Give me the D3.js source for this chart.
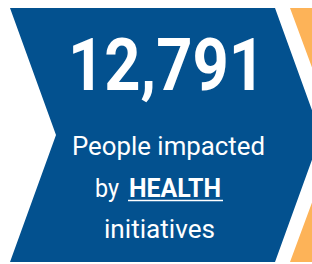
<!DOCTYPE html>
<html lang="en">
<head>
<meta charset="utf-8">
<title>Health impact</title>
<script src="https://d3js.org/d3.v7.min.js"></script>
<style>
  body { margin: 0; background: #fff; }
  svg { display: block; }
</style>
</head>
<body>
<script>
// values
const statValue = ["12,791"];
const lineOne = ["People impacted"];
const lineTwo = ["by", "HEALTH"];
const lineThree = ["initiatives"];

const w = 312, h = 264;
const blue = "#03518f", orange = "#fdb358";

const svg = d3.select("body").append("svg")
  .attr("width", w).attr("height", h);

// chevron shape: notch on the left, point on the right
const chevron = (x0, y0, y1, depth, width) => {
  const mid = (y0 + y1) / 2;
  return d3.line()([
    [x0, y0], [x0 + width, y0], [x0 + width + depth, mid],
    [x0 + width, y1], [x0, y1], [x0 + depth, mid]
  ]) + "Z";
};

// next chevron peeking in from the right
svg.append("path")
  .attr("d", chevron(290, 8, 262, 47, 265))
  .attr("fill", orange);

svg.append("path")
  .attr("d", chevron(10, 8, 262, 46, 265))
  .attr("fill", blue);

svg.append("text")
  .attr("x", 68).attr("y", 90)
  .attr("font-family", "Roboto, sans-serif")
  .attr("font-weight", 700)
  .attr("font-size", 73)
  .attr("fill", "#fff")
  .attr("textLength", 197)
  .attr("lengthAdjust", "spacingAndGlyphs")
  .text(statValue[0]);

svg.append("text")
  .attr("x", 72).attr("y", 155)
  .attr("font-family", "Roboto, sans-serif")
  .attr("font-size", 26)
  .attr("fill", "#fff")
  .attr("textLength", 193)
  .attr("lengthAdjust", "spacingAndGlyphs")
  .text(lineOne[0]);

svg.append("text")
  .attr("x", 95).attr("y", 197)
  .attr("font-family", "Roboto, sans-serif")
  .attr("font-size", 26)
  .attr("fill", "#fff")
  .attr("textLength", 24)
  .attr("lengthAdjust", "spacingAndGlyphs")
  .text(lineTwo[0]);

svg.append("text")
  .attr("x", 129).attr("y", 197)
  .attr("font-family", "Roboto, sans-serif")
  .attr("font-weight", 700)
  .attr("font-size", 26)
  .attr("fill", "#fff")
  .attr("textLength", 92)
  .attr("lengthAdjust", "spacingAndGlyphs")
  .text(lineTwo[1]);

// underline under HEALTH
svg.append("line")
  .attr("x1", 128).attr("x2", 223)
  .attr("y1", 200.5).attr("y2", 200.5)
  .attr("stroke", "#fff").attr("stroke-width", 1.6);

svg.append("text")
  .attr("x", 104).attr("y", 238)
  .attr("font-family", "Roboto, sans-serif")
  .attr("font-size", 26)
  .attr("fill", "#fff")
  .attr("textLength", 111)
  .attr("lengthAdjust", "spacingAndGlyphs")
  .text(lineThree[0]);
</script>
</body>
</html>
